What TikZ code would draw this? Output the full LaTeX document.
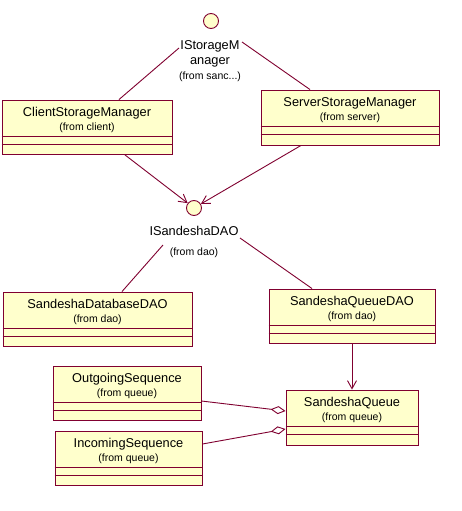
\documentclass[tikz,border=0pt]{standalone}
\usepackage{fontspec}
\setmainfont{Liberation Sans}
\usetikzlibrary{arrows.meta,fit,calc}
\definecolor{umlfill}{RGB}{255,255,204}
\definecolor{umlline}{RGB}{128,0,48}
\tikzset{
  ln/.style={draw=umlline, line width=0.9pt},
  cls/.style={draw=umlline, fill=umlfill, line width=0.9pt, inner sep=0pt},
  iface/.style={circle, draw=umlline, fill=umlfill, line width=0.9pt, minimum size=15pt, inner sep=0pt},
  ttl/.style={anchor=base, inner sep=0pt, font=\fontsize{12.8}{14}\selectfont},
  frm/.style={anchor=base, inner sep=0pt, font=\fontsize{10.5}{12}\selectfont},
  vtip/.style={-{Straight Barb[length=8pt,width=9pt]}},
  diatip/.style={-{Diamond[fill=white,length=15pt,width=8pt]}},
}
\newcommand{\umlclass}[7]{%
  \node[cls, fit={(#2,#3) (#4,#5)}] (#1) {};
  \draw[ln] (#1.west |- 0,#3+36.5) -- (#1.east |- 0,#3+36.5);
  \draw[ln] (#1.west |- 0,#3+44.5) -- (#1.east |- 0,#3+44.5);
  \node[ttl] (#1-t) at ($(#1.north)+(0,17)$) {#6};
  \node[frm] (#1-f) at ($(#1.north)+(0,31)$) {#7};
}
\begin{document}
\begin{tikzpicture}[x=1pt,y=-1pt]
\useasboundingbox (0,0) rectangle (462,511);
\fill[white] (0,0) rectangle (462,511);

\umlclass{csm}{2}{100}{172}{154.5}{ClientStorageManager}{(from client)}
\umlclass{ssm}{261}{90}{439}{145}{ServerStorageManager}{(from server)}
\umlclass{sdd}{3}{292}{192}{346.5}{SandeshaDatabaseDAO}{(from dao)}
\umlclass{sqd}{269}{289}{435}{343.5}{SandeshaQueueDAO}{(from dao)}
\umlclass{os}{53}{366}{201}{420.5}{OutgoingSequence}{(from queue)}
\umlclass{is}{55}{431}{202}{485.5}{IncomingSequence}{(from queue)}
\umlclass{sq}{286}{390}{418}{445}{SandeshaQueue}{(from queue)}

\node[iface] (ism) at (211,21) {};
\node[ttl] (ism-a) at (210,50) {IStorageM};
\node[ttl] (ism-b) at (210,65) {anager};
\node[frm] (ism-c) at (210,79) {(from sanc...)};

\node[iface] (isd) at (194,208) {};
\node[ttl] (isd-a) at (194,235) {ISandeshaDAO};
\node[frm] (isd-b) at (194,255) {(from dao)};

\coordinate (ismL) at (179,48);
\coordinate (ismR) at (242,42);
\coordinate (isdL) at (163,245);
\coordinate (isdR) at (240,238);

\draw[ln] (csm.north -| 119,0) -- (ismL);
\draw[ln] (ssm.north -| 310,0) -- (ismR);
\draw[ln,vtip] (csm.south -| 125,0) -- (isd);
\draw[ln,vtip] (ssm.south -| 301,0) -- (isd);
\draw[ln] (sdd.north -| 122,0) -- (isdL);
\draw[ln] (sqd.north -| 312,0) -- (isdR);
\draw[ln,vtip] (sqd.south -| 352,0) -- (sq.north -| 352,0);
\draw[ln,diatip] (os.east |- 0,401) -- (sq.west |- 0,411);
\draw[ln,diatip] (is.east |- 0,444) -- (sq.west |- 0,429);
\end{tikzpicture}
\end{document}
